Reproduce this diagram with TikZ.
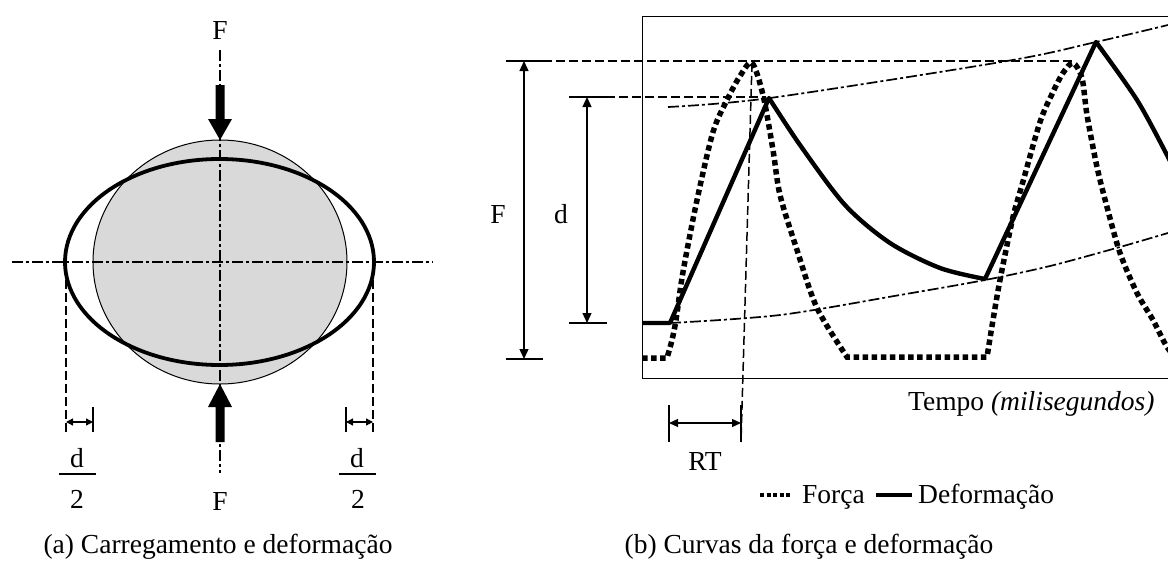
\documentclass[tikz,border=0pt]{standalone}
\usepackage{fontspec}
\setmainfont{Liberation Serif}
\usetikzlibrary{arrows.meta}
\begin{document}
\begin{tikzpicture}[x=1pt,y=-1pt,
  lbl/.style={font=\fontsize{27.5}{32}\selectfont, inner sep=0pt, anchor=base},
  dashdot/.style={line width=1.7pt, dash pattern=on 11pt off 3pt on 3pt off 3pt},
  dashline/.style={line width=1.5pt, dash pattern=on 9pt off 4pt},
  dimline/.style={line width=1.3pt},
  forca/.style={line width=5.5pt, dash pattern=on 5.5pt off 3.6pt},
  deform/.style={line width=4.4pt, line join=round},
  dimarrow/.style={line width=1.3pt, {Triangle[length=10pt,width=9pt]}-{Triangle[length=10pt,width=9pt]}},
  smallarrow/.style={line width=1.3pt, {Triangle[length=7pt,width=7pt]}-{Triangle[length=7pt,width=7pt]}},
]
\useasboundingbox (0,0) rectangle (1168,565);
\clip (0,0) rectangle (1168,565);

% ---------- (a) ----------
\fill[gray!30] (220,262) ellipse [x radius=127pt, y radius=122pt];
\draw[line width=1pt] (220,262) ellipse [x radius=127pt, y radius=122pt];
\draw[line width=3.8pt] (219.5,262) ellipse [x radius=154.5pt, y radius=103pt];
\draw[dashdot] (12,262) -- (433,262);
\draw[dashdot] (220,50) -- (220,473);
\fill (215.5,85) -- (224.5,85) -- (224.5,119) -- (232,119) -- (220,140) -- (208,119) -- (215.5,119) -- cycle;
\fill (220,384) -- (232,407) -- (224.5,407) -- (224.5,442) -- (215.5,442) -- (215.5,407) -- (208,407) -- cycle;
\draw[dashline] (66,280) -- (66,432);
\draw[dashline] (373,280) -- (373,432);
\draw[dimline] (93,407) -- (93,432);
\draw[dimline] (346,407) -- (346,432);
\draw[smallarrow] (66,422) -- (93,422);
\draw[smallarrow] (346,422) -- (373,422);
\node[lbl] (Ftop) at (220,39) {F};
\node[lbl] (Fbot) at (220,510) {F};
\node[lbl] (dl) at (77,467) {d};
\draw[dimline] (59,474) -- (96,474);
\node[lbl] (twol) at (77,508) {2};
\node[lbl] (dr) at (357,467) {d};
\draw[dimline] (339,474) -- (376,474);
\node[lbl] (twor) at (358,508) {2};
\node[lbl] (capa) at (218,553) {(a) Carregamento e deformação};

% ---------- (b) ----------
\draw[line width=1pt] (1200,16) -- (642,16) -- (642,378) -- (1200,378);
\draw[dimline] (506,61) -- (543,61);
\draw[dimline] (506,359) -- (543,359);
\draw[dimarrow] (524,61) -- (524,359);
\draw[dimline] (569,97) -- (606,97);
\draw[dimline] (569,323) -- (607,323);
\draw[dimarrow] (587,97) -- (587,323);
\node[lbl] (Fl) at (498,223) {F};
\node[lbl] (dlab) at (561,223) {d};
\draw[dashline] (543,61) -- (1073,61);
\draw[dashline] (606,97) -- (766,97);
\draw[dashline] (752,63) -- (741,442);
\draw[dimline] (669,405) -- (669,442);
\draw[dimline] (741,405) -- (741,442);
\draw[line width=1.3pt, {Triangle[length=9pt,width=8pt]}-{Triangle[length=9pt,width=8pt]}] (669,423) -- (741,423);
\node[lbl] (RT) at (705,470) {RT};
\node[lbl, anchor=base west] (tempo) at (908,410) {Tempo \textit{(milisegundos)}};

\draw[dashdot] plot[smooth] coordinates {(668,107) (770,98) (1007,61) (1096,42) (1168,25) (1200,17)};
\draw[dashdot] plot[smooth] coordinates {(670,323) (780,315) (900,295) (985,280) (1050,266) (1120,247) (1168,233) (1200,224)};

\draw[forca] (642,358) -- plot[smooth, tension=0.5] coordinates {(667,358) (672,340) (676,320) (683,272) (697,200) (713,132) (727,100) (740,76) (752,63) (763,95) (773,150) (780,195) (797,250) (817,308) (847,357)}
  -- (987,357) -- plot[smooth, tension=0.5] coordinates {(987,357) (993,320) (1000,280) (1013,217) (1022,185) (1040,122) (1053,92) (1063,73) (1073,63) (1082,78) (1087,115) (1097,167) (1107,207) (1120,253) (1137,293) (1153,320) (1167,347) (1180,362)};

\draw[deform] (642,323) -- (670,323) -- plot[smooth, tension=0.5] coordinates {(769,98) (800,145) (845,205) (890,243) (940,268) (985,279)}
  -- plot[smooth, tension=0.5] coordinates {(1096,42) (1137,100) (1168,157) (1180,182)};

% legend
\draw[line width=4pt, dash pattern=on 4pt off 2.5pt] (760,495) -- (792,495);
\node[lbl, anchor=base west] (lf) at (802,503) {Força};
\draw[line width=3.5pt] (876,495) -- (912,495);
\node[lbl, anchor=base west] (ld) at (918,503) {Deformação};
\node[lbl] (capb) at (809,553) {(b) Curvas da força e deformação};
\end{tikzpicture}
\end{document}
